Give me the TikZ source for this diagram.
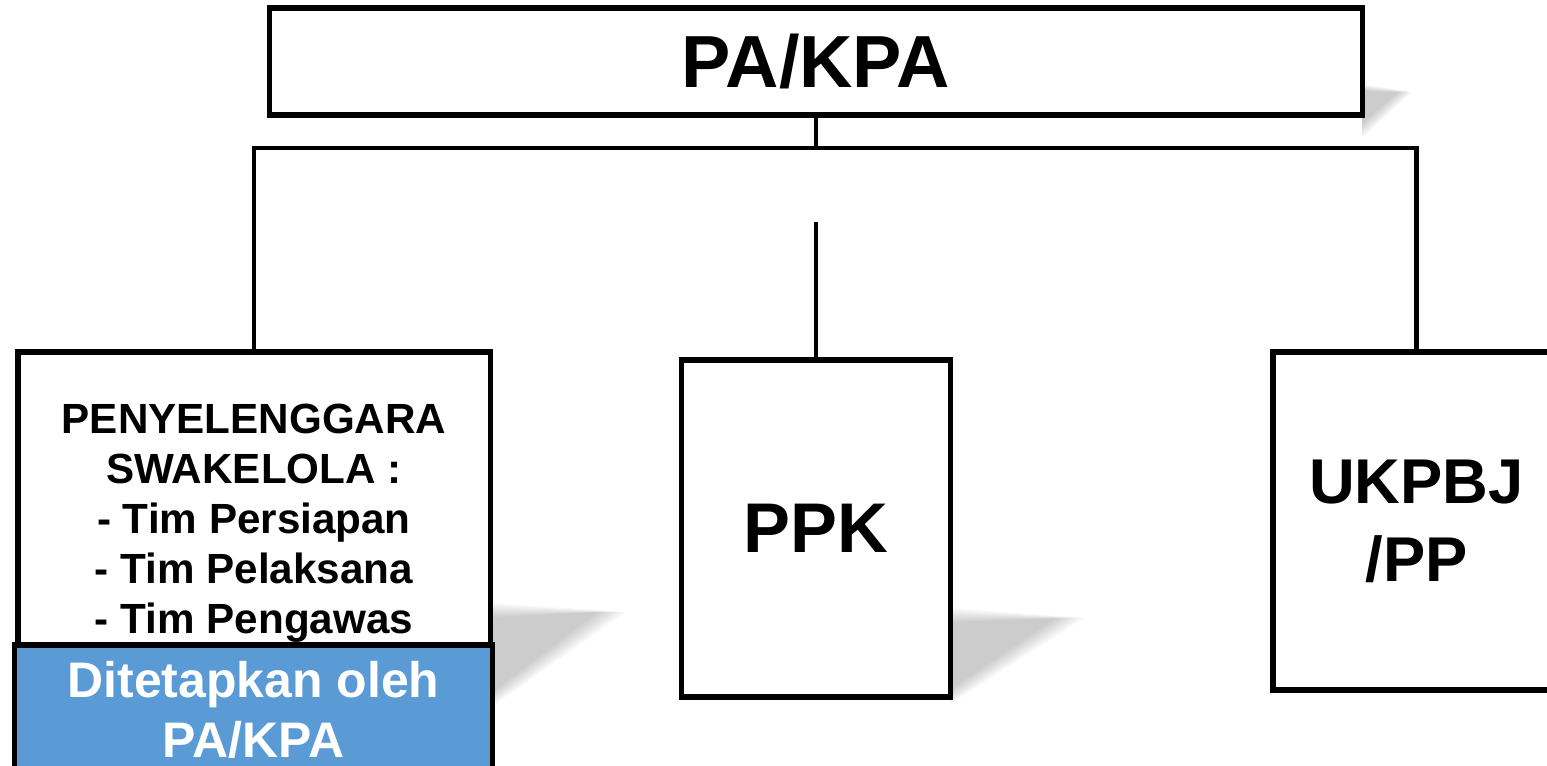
\documentclass[tikz,border=0pt]{standalone}
\usepackage{fontspec}
\setmainfont{Liberation Sans}
\usetikzlibrary{positioning}
\definecolor{fixedblue}{HTML}{5B9BD5}
\begin{document}
\begin{tikzpicture}[x=0.01cm,y=-0.01cm,
    box/.style={draw, line width=1.5pt, fill=white, inner sep=0pt},
    link/.style={line width=1.4pt},
    dropshadow/.style={fill=black, opacity=0.028},
    big/.style={font=\bfseries\fontsize{21}{22}\selectfont},
    small/.style={font=\bfseries\fontsize{12}{14.2}\selectfont, align=center}]
  \clip (0,0) rectangle (1547,766);
  % soft shadows
  \foreach \s in {0,2,...,14} {
    \fill[dropshadow] (1362,84+\s/2) -- (1412-\s,92) -- (1362,138-\s) -- cycle;
    \fill[dropshadow] (490,603+\s) -- (626-2*\s,612) -- (490,708-\s) -- cycle;
    \fill[dropshadow] (950,608+\s) -- (1084-2*\s,618) -- (950,704-\s) -- cycle;
  }
  % boxes
  \node[box, big, minimum width=10.92cm, minimum height=1.07cm] (pakpa) at (816,61.5) {PA/KPA};
  \node[box, minimum width=4.72cm, minimum height=3.80cm] (swakelola) at (254,542) {};
  \node[small] (swakelolatext) at (254,523) {PENYELENGGARA\\SWAKELOLA :\\- Tim Persiapan\\- Tim Pelaksana\\- Tim Pengawas};
  \node[box, fill=fixedblue, text=white, align=center, minimum width=4.77cm, minimum height=1.30cm,
        font=\bfseries\fontsize{14.2}{17.2}\selectfont] (ditetapkan) at (253.5,710) {Ditetapkan oleh\\PA/KPA};
  \node[box, minimum width=2.69cm, minimum height=3.37cm,
        font=\bfseries\fontsize{20}{22}\selectfont] (ppk) at (816,528.5) {PPK};
  \node[box, align=center, minimum width=2.87cm, minimum height=3.38cm,
        font=\bfseries\fontsize{18}{22.2}\selectfont] (ukpbj) at (1416.5,521) {UKPBJ\\/PP};
  % connectors
  \coordinate (hub) at (816,148);
  \coordinate (ppktop) at (816,222);
  \draw[link] (pakpa.south) -- (hub);
  \draw[link] (swakelola.north) |- (hub) -| (ukpbj.north);
  \draw[link] (ppktop) -- (ppk.north);
\end{tikzpicture}
\end{document}
